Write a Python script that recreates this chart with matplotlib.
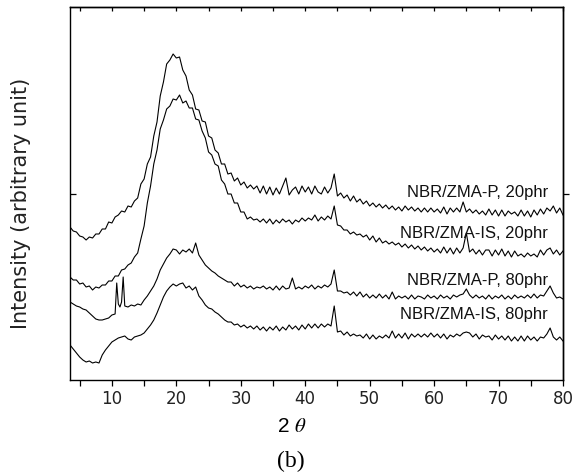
import numpy as np
import matplotlib
matplotlib.use("Agg")
import matplotlib.pyplot as plt

# ---------------- data (arbitrary intensity units, stacked curves) ----------------
two_theta = np.arange(3.5, 80.01, 0.5)

p20 = [153,149,148,144,143,140,143,142,146,146,
       151,151,158,157,163,165,169,168,174,173,
       179,182,196,201,216,223,244,258,284,298,
       316,320,326,322,323,310,304,290,285,271,
       270,259,258,244,242,230,227,216,216,206,
       207,199,202,195,198,192,195,191,194,187,
       194,186,193,185,192,186,194,202,185,190,
       193,186,194,188,193,186,194,188,186,193,
       187,192,206,184,187,182,185,179,184,178,
       181,176,179,174,177,173,176,172,175,171,
       174,170,173,169,174,170,173,169,172,168,
       172,168,172,168,171,167,173,166,172,168,
       172,168,178,168,171,167,170,166,169,165,
       171,165,170,164,170,164,169,166,168,164,
       170,164,169,163,170,165,171,166,172,169,
       174,167,172,165]

is20 = [103,100,100,96,97,93,94,90,93,92,
        95,95,99,99,104,104,110,111,115,117,
        123,127,141,154,177,194,216,230,251,260,
        271,274,281,280,285,277,279,272,272,261,
        260,249,242,228,225,216,214,200,196,186,
        186,177,177,168,168,161,163,160,161,158,
        161,157,161,156,160,157,161,158,160,156,
        160,158,162,159,162,160,165,159,163,160,
        164,161,174,155,154,150,150,146,148,145,
        146,143,145,140,144,138,142,137,139,136,
        138,135,137,133,136,132,135,131,134,130,
        133,129,132,128,131,127,133,127,132,126,
        132,127,132,147,128,131,126,130,125,130,
        130,124,130,125,131,124,129,123,129,124,
        126,123,127,124,126,123,130,125,130,132,
        126,130,125,129]

p80 = [78,76,74,73,71,70,67,64,61,60,
       60,61,62,65,66,76,78,74,73,75,
       74,76,75,80,84,89,94,101,110,116,
       122,126,131,130,126,130,128,131,127,137,
       125,120,115,112,109,107,104,102,100,98,
       98,94,97,93,95,92,94,91,93,92,
       94,91,93,90,94,90,94,91,92,102,
       91,93,91,94,92,95,91,94,92,95,
       93,96,110,89,89,87,88,85,88,84,
       88,83,86,82,85,82,86,82,85,81,
       88,81,84,82,84,81,85,81,84,83,
       81,85,82,84,81,85,82,84,81,85,
       83,85,86,91,85,82,85,82,84,81,
       85,81,84,82,85,81,84,81,85,82,
       84,82,85,82,86,82,85,84,89,94,
       87,82,83,81]
# extra readings around the two sharp reflections near 11 degrees
p80_extra_theta = [10.75, 11.25, 11.75]
p80_extra = [97, 73, 103]

is80 = [35,31,27,23,20,18,19,17,18,17,
        25,30,34,38,40,42,43,44,41,40,
        43,44,45,47,51,55,60,67,75,83,
        89,93,96,94,96,97,92,94,90,93,
        84,80,75,72,71,68,66,63,60,58,
        58,55,56,53,55,52,54,51,54,50,
        53,49,53,50,54,49,53,50,55,51,
        54,50,55,51,56,52,56,52,56,53,
        56,54,74,48,49,45,48,44,46,44,
        45,42,46,41,45,41,44,42,45,42,
        49,42,46,42,47,41,46,43,46,43,
        46,43,47,43,46,42,46,41,45,43,
        46,44,47,48,47,43,46,41,45,43,
        44,40,45,41,44,40,44,39,43,39,
        44,39,44,40,43,39,43,42,46,52,
        43,40,43,39]

labels = ["NBR/ZMA-P, 20phr", "NBR/ZMA-IS, 20phr",
          "NBR/ZMA-P, 80phr", "NBR/ZMA-IS, 80phr"]
label_y = [183, 142, 95, 61]
xticks = [10, 20, 30, 40, 50, 60, 70, 80]
xminor = [5, 15, 25, 35, 45, 55, 65, 75]

# ---------------- figure ----------------
plt.rcParams["mathtext.fontset"] = "stix"
fig = plt.figure(figsize=(5.75, 4.76), dpi=100)
ax = fig.add_axes([70/575, 1-380/476, 493/575, 373/476])

theta_c = np.concatenate([two_theta, p80_extra_theta])
vals_c = np.concatenate([p80, p80_extra])
order = np.argsort(theta_c)

lw = 0.8
ax.plot(two_theta, p20, color="black", lw=lw)
ax.plot(two_theta, is20, color="black", lw=lw)
ax.plot(theta_c[order], vals_c[order], color="black", lw=lw)
ax.plot(two_theta, is80, color="black", lw=lw)

for lab, yy in zip(labels, label_y):
    ax.text(77.7, yy, lab, ha="right", va="baseline", fontsize=12,
            family="Liberation Sans", color="#111111")

ax.set_xlim(3.5, 80)
ax.set_ylim(0, 373)
ax.set_xticks(xticks)
ax.set_xticks(xminor, minor=True)
ax.set_yticks([186.5])
ax.set_yticklabels([])
ax.tick_params(axis="x", which="both", direction="out", length=4, width=0.9,
               labelsize=12, pad=3)
ax.tick_params(axis="y", which="both", left=True, right=False, direction="in",
               length=4, width=0.9)
for lbl in ax.get_xticklabels():
    lbl.set_family("DejaVu Sans")
    lbl.set_color("#222222")

top = ax.secondary_xaxis("top")
top.set_xticks(xticks)
top.set_xticks(xminor, minor=True)
top.tick_params(axis="x", which="both", direction="in", length=3, width=0.9,
                labeltop=False)
right = ax.secondary_yaxis("right")
right.set_yticks([186.5])
right.tick_params(axis="y", direction="out", length=4, width=0.9, labelright=False)

for s in ax.spines.values():
    s.set_linewidth(1.0)
top.spines["top"].set_linewidth(1.0)
right.spines["right"].set_linewidth(1.0)

fig.text(21/575, 1-203/476, "Intensity (arbitrary unit)", rotation=90,
         ha="center", va="center", fontsize=15, family="DejaVu Sans", color="#222222")
fig.text(292/575, 1-427/476, r"2 $\theta$", ha="center", va="center",
         fontsize=15, family="Liberation Sans")
fig.text(291/575, 1-461/476, "(b)", ha="center", va="center",
         fontsize=17, family="Liberation Serif")

fig.savefig("out.png", dpi=100)
